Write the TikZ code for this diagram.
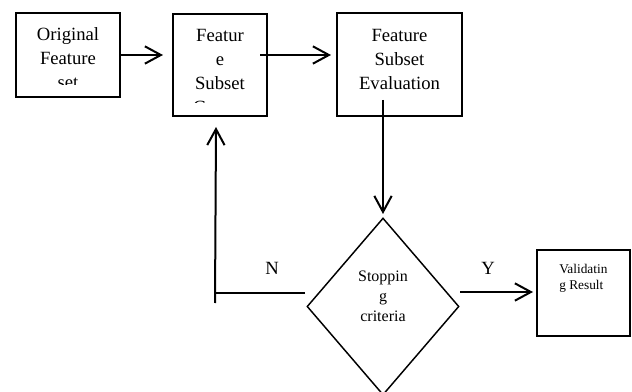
\documentclass[tikz,border=0pt]{standalone}
\usepackage{fontspec}
\setmainfont{Liberation Serif}
\usetikzlibrary{arrows.meta,shapes.geometric}

\begin{document}
\begin{tikzpicture}[>={Straight Barb[length=12pt,width=13pt]},x=0.75pt,y=-0.75pt,
                box/.style={draw, line width=1.5pt, inner sep=0pt},
                flow/.style={line width=1.5pt, ->},
                txt/.style={align=center, inner sep=0pt, font=\fontsize{14}{18}\selectfont}]
                \useasboundingbox (0,0) rectangle (632,392);

                % blocks
                \node[box, minimum width=78pt, minimum height=63pt] (orig) at (68,55) {};
                \node[box, minimum width=70.5pt, minimum height=76.5pt] (featgen) at (220,65) {};
                \node[box, minimum width=93.75pt, minimum height=77.25pt] (featev) at (399.5,64.5) {};
                \node[draw, diamond, line width=1.1pt, inner sep=0pt, aspect=0.86,
                      minimum width=114pt, minimum height=132.75pt] (stop) at (383,306.5) {};
                \node[box, minimum width=69.75pt, minimum height=64.5pt] (valid) at (583.5,293) {};

                % texts, cut off at the bottom as in the boxes
                \begin{scope}
                \clip (orig.north west) rectangle (120,85);
                \node[txt] (origtxt) at (68,58) {Original\\Feature\\set};
                \end{scope}
                \begin{scope}
                \clip (featgen.north west) rectangle (267,103);
                \node[txt] (featgentxt) at (220,71) {Featur\\e\\Subset\\Genera};
                \end{scope}
                \node[txt] (featevtxt) at (399.5,59) {Feature\\Subset\\Evaluation};
                \node[align=center, inner sep=0pt, font=\fontsize{12}{15}\selectfont] (stoptxt) at (383,296.5) {Stoppin\\g\\criteria};
                \node[align=left, anchor=west, inner sep=0pt, font=\fontsize{10}{12}\selectfont] (validtxt) at (559,278.3) {Validatin\\g Result};

                % connector ends
                \coordinate (a1e) at (163,55);
                \coordinate (a2s) at (260,55);
                \coordinate (a2e) at (331,55);
                \coordinate (a3s) at (383,100);
                \coordinate (a3e) at (383,214);
                \coordinate (ns) at (305,293);
                \coordinate (nc) at (215,293);
                \coordinate (nb) at (215,303);
                \coordinate (nt) at (216,127);
                \coordinate (ys) at (460,292);
                \coordinate (ye) at (533,292);

                \draw[flow] (orig.east) -- (a1e);
                \draw[flow] (a2s) -- (a2e);
                \draw[flow] (a3s) -- (a3e);
                \draw[line width=1.5pt, -] (ns) -- (nc);
                \draw[flow] (nb) -- (nt);
                \draw[flow] (ys) -- (ye);

                \node[txt] (nlab) at (272,268) {N};
                \node[txt] (ylab) at (488,268) {Y};
             \end{tikzpicture}
\end{document}
